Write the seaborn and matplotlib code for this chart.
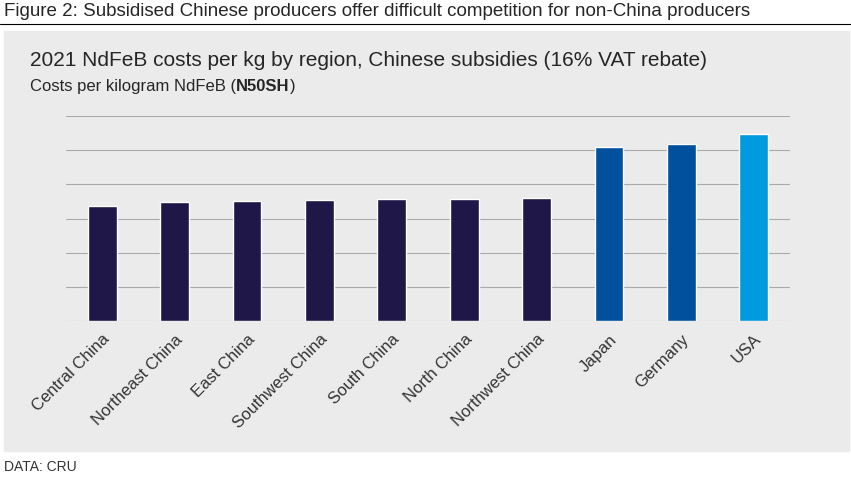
import matplotlib
matplotlib.use('Agg')
import matplotlib.pyplot as plt
import seaborn as sns
import pandas as pd
from matplotlib.patches import Rectangle

regions = ['Central China', 'Northeast China', 'East China', 'Southwest China', 'South China',
           'North China', 'Northwest China', 'Japan', 'Germany', 'USA']
costs = [3.38, 3.47, 3.50, 3.53, 3.56, 3.56, 3.59, 5.10, 5.19, 5.48]
colors = ['#1f1748'] * 7 + ['#00509e', '#00509e', '#009ade']

df = pd.DataFrame({'region': regions, 'cost': costs})

sns.set_style('white')
plt.rcParams['font.family'] = ['Liberation Sans', 'DejaVu Sans']

fig = plt.figure(figsize=(8.51, 4.81), dpi=100)
fig.patches.append(Rectangle((4 / 851, 1 - 452 / 481), 845 / 851, (452 - 32) / 481,
                             transform=fig.transFigure, color='#ebebeb', zorder=-10))
fig.add_artist(plt.Line2D([0, 1], [1 - 25 / 481] * 2, color='black', lw=0.8))
fig.text(4 / 851, 1 - 12 / 481, 'Figure 2: Subsidised Chinese producers offer difficult competition for non-China producers',
         fontsize=13.5, va='center')
fig.text(30 / 851, 1 - 60 / 481, '2021 NdFeB costs per kg by region, Chinese subsidies (16% VAT rebate)',
         fontsize=15, va='center')
t1 = fig.text(30 / 851, 1 - 91 / 481, 'Costs per kilogram NdFeB (', fontsize=12, va='baseline')
t2 = fig.text(0, 0, 'N50SH', fontsize=12, weight='bold', va='baseline')
t2.set_position((1, 0))
t2.set_transform(matplotlib.transforms.offset_copy(fig.transFigure, fig=fig))
fig.canvas.draw()
bb = t1.get_window_extent().transformed(fig.transFigure.inverted())
t2.set_transform(fig.transFigure)
t2.set_position((bb.x1, 1 - 91 / 481))
fig.canvas.draw()
bb2 = t2.get_window_extent().transformed(fig.transFigure.inverted())
fig.text(bb2.x1, 1 - 91 / 481, ')', fontsize=12, va='baseline')
fig.text(4 / 851, 1 - 467 / 481, 'DATA: CRU', fontsize=10, va='center', color='#333333')

ax = fig.add_axes([66 / 851, 1 - 322 / 481, (790 - 66) / 851, (322 - 117) / 481])
ax.set_zorder(5)
ax.set_facecolor('none')
sns.barplot(data=df, x='region', y='cost', hue='region', palette=colors, legend=False,
            width=0.4, ax=ax, saturation=1, zorder=3)
ax.set_ylim(0, 6)
ax.set_yticks(range(7))
ax.yaxis.grid(True, color='#aaaaaa', lw=0.8)
ax.set_yticklabels([])
ax.tick_params(left=False, bottom=False)
for s in ax.spines.values():
    s.set_visible(False)
ax.set_xlabel('')
ax.set_ylabel('')
ax.set_xlim(-0.5, 9.5)
plt.setp(ax.get_xticklabels(), rotation=45, ha='right', rotation_mode='anchor', fontsize=12, color='#333333')

fig.savefig('out.png', dpi=100)
